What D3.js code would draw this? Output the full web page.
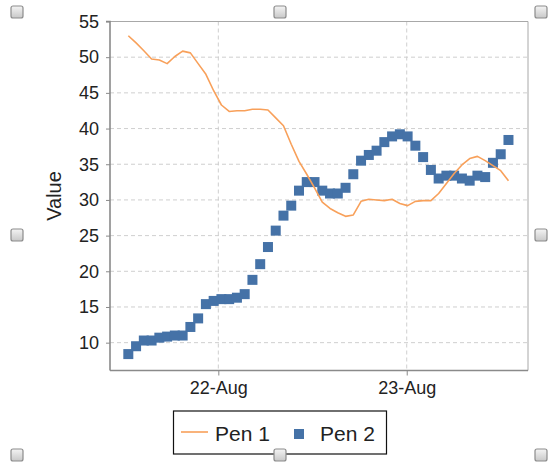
<!DOCTYPE html>
<html>
<head>
<meta charset="utf-8">
<script src="https://cdn.jsdelivr.net/npm/d3@7"></script>
<style>
  html, body { margin: 0; padding: 0; background: #fff; }
  svg { display: block; }
  text { font-family: "Liberation Sans", Arial, sans-serif; fill: #222; }
</style>
</head>
<body>
<svg id="chart" width="548" height="466"></svg>
<script>
// ---- data ----
const seriesNames = ["Pen 1", "Pen 2"];
const startTime = new Date(2023, 7, 21, 12, 32);   // first sample
const sampleMinutes = 59.3;                         // sampling interval
const pen1 = [53.0, 52.0, 50.9, 49.75, 49.6, 49.1, 50.1, 50.85, 50.6, 49.1,
              47.6, 45.3, 43.3, 42.4, 42.5, 42.5, 42.7, 42.7, 42.6, 41.5,
              40.4, 37.8, 35.4, 33.6, 31.7, 29.7, 28.8, 28.2, 27.7, 27.9,
              29.8, 30.1, 30.0, 29.9, 30.1, 29.5, 29.2, 29.8, 29.9, 29.9,
              30.9, 32.3, 33.7, 34.9, 35.8, 36.1, 35.5, 34.8, 34.1, 32.7];
const pen2 = [8.4, 9.5, 10.3, 10.3, 10.7, 10.85, 11.0, 11.0, 12.2, 13.4,
              15.4, 15.85, 16.1, 16.1, 16.3, 16.8, 18.8, 21.0, 23.4, 25.7,
              27.8, 29.2, 31.3, 32.5, 32.5, 31.3, 30.9, 30.9, 31.7, 33.6,
              35.5, 36.3, 36.9, 38.1, 38.9, 39.2, 38.9, 37.6, 36.0, 34.2,
              33.0, 33.4, 33.4, 33.0, 32.7, 33.4, 33.2, 35.2, 36.4, 38.4];
const yTicks = [10, 15, 20, 25, 30, 35, 40, 45, 50, 55];
const xDomain = [new Date(2023, 7, 21, 10, 12), new Date(2023, 7, 23, 15, 27)];
const yDomain = [6.1, 55];
const yLabel = "Value";

const times = pen1.map((_, i) => new Date(startTime.getTime() + i * sampleMinutes * 60000));
const rows1 = times.map((t, i) => ({ t, v: pen1[i] }));
const rows2 = times.map((t, i) => ({ t, v: pen2[i] }));

// ---- layout ----
const L = 110, R = 528, T = 21.5, B = 370.5;
const c1 = "#f8a05a", c2 = "#4572a7";

const svg = d3.select("#chart");
const x = d3.scaleTime().domain(xDomain).range([L, R]);
const y = d3.scaleLinear().domain(yDomain).range([B, T]);

// gridlines
const grid = svg.append("g");
grid.selectAll("line.h").data(yTicks).join("line")
  .attr("x1", L).attr("x2", R)
  .attr("y1", d => y(d)).attr("y2", d => y(d))
  .attr("stroke", "#cfcfcf").attr("stroke-dasharray", "4,3");
const xTicks = x.ticks(d3.timeDay.every(1));
grid.selectAll("line.v").data(xTicks).join("line")
  .attr("y1", T).attr("y2", B)
  .attr("x1", d => x(d)).attr("x2", d => x(d))
  .attr("stroke", "#cfcfcf").attr("stroke-dasharray", "4,3");

// frame top/right
svg.append("path")
  .attr("d", `M${L},${T}H${R}V${B}`)
  .attr("fill", "none").attr("stroke", "#a8a8a8").attr("stroke-width", 1);

// axes
const yAxis = svg.append("g").attr("transform", `translate(${L},0)`)
  .call(d3.axisLeft(y).tickValues(yTicks).tickSize(4).tickPadding(7).tickFormat(d3.format("d")));
const xAxis = svg.append("g").attr("transform", `translate(0,${B})`)
  .call(d3.axisBottom(x).tickValues(xTicks).tickSize(5).tickPadding(6).tickFormat(d3.timeFormat("%d-%b")));
[yAxis, xAxis].forEach(a => {
  a.select(".domain").attr("stroke", "#8a8a8a").attr("stroke-width", 1.6);
  a.selectAll(".tick line").attr("stroke", "#8a8a8a");
  a.selectAll(".tick text").attr("font-family", "Liberation Sans, Arial, sans-serif")
    .attr("font-size", 18).attr("fill", "#222");
});
yAxis.select(".domain").attr("d", `M-4,${T}H0V${B}`);
xAxis.select(".domain").attr("d", `M${L},0H${R}`);

// y label
svg.append("text")
  .attr("transform", `translate(61,${(T + B) / 2}) rotate(-90)`)
  .attr("text-anchor", "middle")
  .attr("font-size", 20)
  .text(yLabel);

// Pen 2 squares
const sq = 10;
svg.append("g").selectAll("rect").data(rows2).join("rect")
  .attr("x", d => x(d.t) - sq / 2).attr("y", d => y(d.v) - sq / 2)
  .attr("width", sq).attr("height", sq).attr("fill", c2);

// Pen 1 line
svg.append("path").datum(rows1)
  .attr("fill", "none").attr("stroke", c1).attr("stroke-width", 1.6)
  .attr("stroke-linejoin", "round")
  .attr("d", d3.line().x(d => x(d.t)).y(d => y(d.v)));

// legend
const lg = svg.append("g");
lg.append("rect").attr("x", 173.5).attr("y", 411).attr("width", 213).attr("height", 43)
  .attr("fill", "#fff").attr("stroke", "#111").attr("stroke-width", 1.2);
lg.append("line").attr("x1", 181).attr("x2", 208).attr("y1", 432).attr("y2", 432)
  .attr("stroke", c1).attr("stroke-width", 1.6);
lg.append("text").attr("x", 215).attr("y", 441).attr("font-size", 21).text(seriesNames[0]);
lg.append("rect").attr("x", 294).attr("y", 429).attr("width", sq).attr("height", sq).attr("fill", c2);
lg.append("text").attr("x", 320).attr("y", 441).attr("font-size", 21).text(seriesNames[1]);

// selection handles
const handles = [[17, 12], [280, 12], [541, 12], [17, 235], [541, 235], [17, 455], [280, 455], [541, 455]];
const defs = svg.append("defs");
const grad = defs.append("linearGradient").attr("id", "hg").attr("x1", 0).attr("y1", 0).attr("x2", 0).attr("y2", 1);
grad.append("stop").attr("offset", "0%").attr("stop-color", "#f4f4f4");
grad.append("stop").attr("offset", "100%").attr("stop-color", "#c8c8c8");
svg.append("g").selectAll("rect").data(handles).join("rect")
  .attr("x", d => d[0] - 6).attr("y", d => d[1] - 6)
  .attr("width", 12).attr("height", 12).attr("rx", 2)
  .attr("fill", "url(#hg)").attr("stroke", "#8c8c8c").attr("stroke-width", 1.2);
</script>
</body>
</html>
